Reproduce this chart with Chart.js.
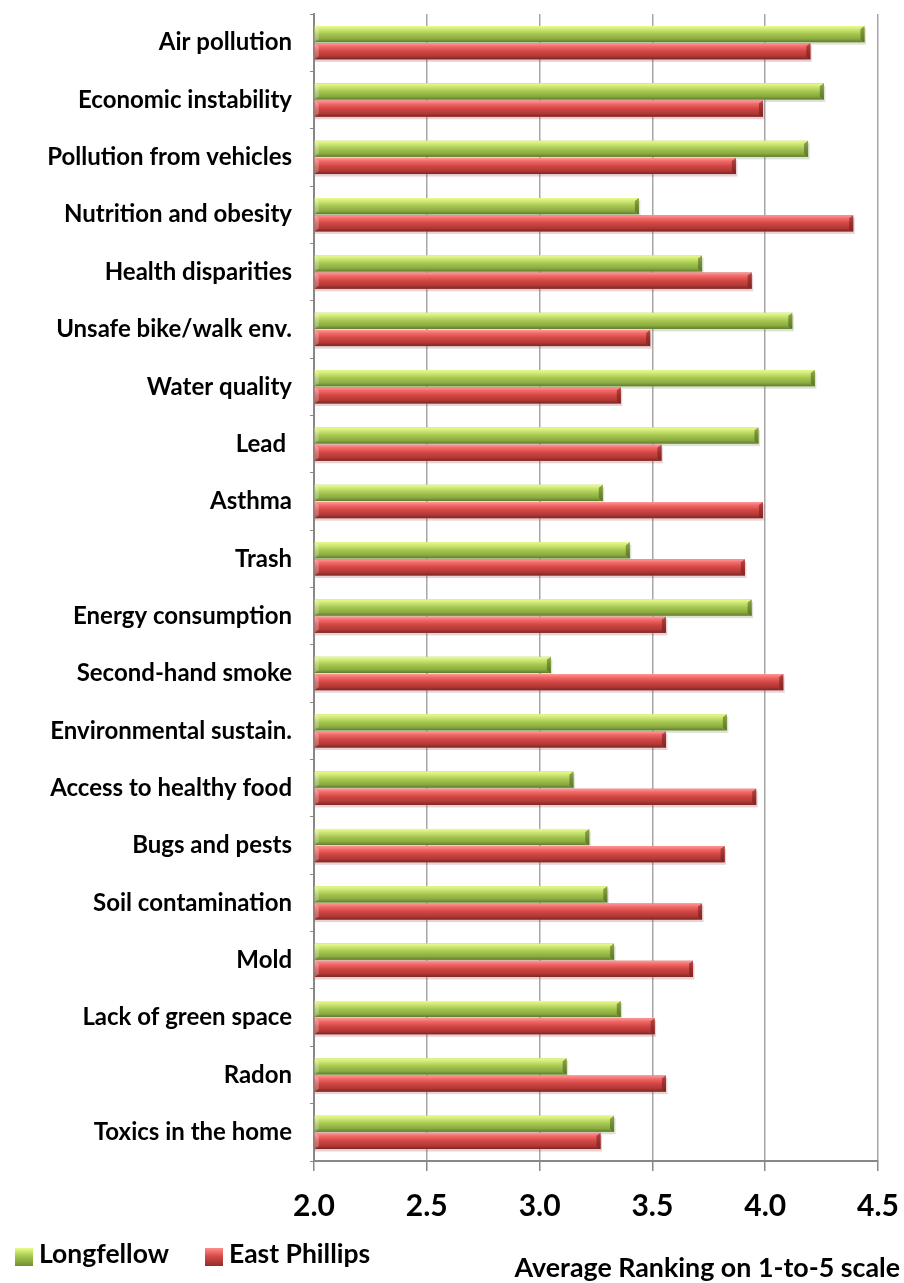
<!DOCTYPE html>
<html>
<head>
<meta charset="utf-8">
<script src="https://cdn.jsdelivr.net/npm/chart.js@4.4.1/dist/chart.umd.min.js"></script>
<style>
  html, body { margin: 0; padding: 0; background: #fff; }
  #wrap { position: relative; width: 904px; height: 1283px; }
  .txt {
    position: absolute; white-space: nowrap;
    font-family: Lato, 'Open Sans', sans-serif; font-weight: 700; font-size: 26.5px; line-height: 32px; color: #000;
  }
  .swatch { position: absolute; width: 18px; height: 18px; }
  .sw-green { background: linear-gradient(#e9fb8d, #a6c84f 45%, #6f8f35); }
  .sw-red { background: linear-gradient(#ff8d8d, #d84b48 45%, #8e2e2c); }
</style>
</head>
<body>
<div id="wrap">
  <canvas id="chart" width="904" height="1283"></canvas>
  <span class="swatch sw-green" style="left:15px; top:1248px;"></span>
  <span class="txt" style="left:39px; top:1237px;">Longfellow</span>
  <span class="swatch sw-red" style="left:205px; top:1248px;"></span>
  <span class="txt" style="left:229px; top:1237px;">East Phillips</span>
  <span class="txt" style="right:4px; top:1251px; font-size:26.8px;">Average Ranking on 1-to-5 scale</span>
</div>
<script>
/* --- DATA --- */
const CATEGORIES = [
  'Air pollution', 'Economic instability', 'Pollution from vehicles', 'Nutrition and obesity',
  'Health disparities', 'Unsafe bike/walk env.', 'Water quality', 'Lead ', 'Asthma', 'Trash',
  'Energy consumption', 'Second-hand smoke', 'Environmental sustain.', 'Access to healthy food',
  'Bugs and pests', 'Soil contamination', 'Mold', 'Lack of green space', 'Radon', 'Toxics in the home'
];
const LONGFELLOW = [4.44, 4.26, 4.19, 3.44, 3.72, 4.12, 4.22, 3.97, 3.28, 3.40, 3.94, 3.05, 3.83, 3.15, 3.22, 3.30, 3.33, 3.36, 3.12, 3.33];
const EAST_PHILLIPS = [4.20, 3.99, 3.87, 4.39, 3.94, 3.49, 3.36, 3.54, 3.99, 3.91, 3.56, 4.08, 3.56, 3.96, 3.82, 3.72, 3.68, 3.51, 3.56, 3.27];
const X_TICKS = [2.0, 2.5, 3.0, 3.5, 4.0, 4.5];

const FONT = "Lato, 'Open Sans', sans-serif";

// gradient stops for the "3D" bar look
const BAR_STYLES = [
  { stops: ['#eafc90', '#cfe875', '#a4c650', '#8aaa40', '#5f7c2c'], end: 'rgba(70,95,30,0.55)' },
  { stops: ['#ff9a9a', '#f26a68', '#d24643', '#b03835', '#7c2624'], end: 'rgba(110,30,28,0.55)' }
];

/* --- bevel / shadow plugin --- */
const barLook = {
  id: 'barLook',
  beforeDatasetsDraw(chart) {
    const ctx = chart.ctx;
    ctx.save();
    chart.data.datasets.forEach((ds, di) => {
      chart.getDatasetMeta(di).data.forEach(el => {
        const { x, y, base, height } = el.getProps(['x', 'y', 'base', 'height'], true);
        ctx.fillStyle = di === 0 ? 'rgba(120,140,90,0.25)' : 'rgba(160,80,80,0.25)';
        ctx.fillRect(base, y - height / 2 + 2.5, x - base + 1.5, height);
      });
    });
    ctx.restore();
  },
  afterDatasetsDraw(chart) {
    const ctx = chart.ctx;
    ctx.save();
    chart.data.datasets.forEach((ds, di) => {
      const st = BAR_STYLES[di];
      chart.getDatasetMeta(di).data.forEach(el => {
        const { x, y, base, height } = el.getProps(['x', 'y', 'base', 'height'], true);
        const top = y - height / 2;
        const g = ctx.createLinearGradient(0, top, 0, top + height);
        g.addColorStop(0, st.stops[0]);
        g.addColorStop(0.2, st.stops[1]);
        g.addColorStop(0.5, st.stops[2]);
        g.addColorStop(0.8, st.stops[3]);
        g.addColorStop(1, st.stops[4]);
        ctx.fillStyle = g;
        ctx.fillRect(base, top, x - base, height);
        // bevelled right end
        ctx.fillStyle = st.end;
        ctx.beginPath();
        ctx.moveTo(x, top);
        ctx.lineTo(x, top + height);
        ctx.lineTo(x - 4, top + height - 3);
        ctx.lineTo(x - 4, top + 3);
        ctx.closePath();
        ctx.fill();
        // bevelled left start
        ctx.fillStyle = 'rgba(255,255,255,0.25)';
        ctx.beginPath();
        ctx.moveTo(base, top);
        ctx.lineTo(base + 4, top + 3);
        ctx.lineTo(base + 4, top + height - 3);
        ctx.lineTo(base, top + height);
        ctx.closePath();
        ctx.fill();
      });
    });
    ctx.restore();
  }
};

new Chart(document.getElementById('chart'), {
  type: 'bar',
  data: {
    labels: CATEGORIES,
    datasets: [
      { label: 'Longfellow', data: LONGFELLOW, backgroundColor: '#9bbb59', base: X_TICKS[0] },
      { label: 'East Phillips', data: EAST_PHILLIPS, backgroundColor: '#c0504d', base: X_TICKS[0] }
    ]
  },
  options: {
    indexAxis: 'y',
    responsive: false,
    animation: false,
    datasets: { bar: { categoryPercentage: 0.6, barPercentage: 0.94 } },
    layout: { padding: { top: 14, right: 26, left: 0, bottom: 0 } },
    plugins: { legend: { display: false }, tooltip: { enabled: false } },
    scales: {
      x: {
        min: 2, max: 4.5,
        beginAtZero: false,
        afterBuildTicks: (scale) => { scale.ticks = X_TICKS.map(v => ({ value: v })); },
        afterFit: (scale) => { scale.height = 122; scale.paddingLeft = 0; scale.paddingRight = 0; },
        grid: { color: '#a6a6a6', lineWidth: 1.5, tickLength: 10, tickColor: '#888' },
        border: { color: '#888', width: 2 },
        ticks: {
          color: '#000', padding: 17,
          font: { family: FONT, size: 30, weight: 'bold' },
          callback: (v) => Number(v).toFixed(1)
        }
      },
      y: {
        afterFit: (scale) => { scale.width = 314; scale.paddingTop = 0; scale.paddingBottom = 0; },
        grid: { drawOnChartArea: false, tickLength: 4, color: '#888' },
        border: { color: '#888', width: 2 },
        ticks: { color: '#000', padding: 18, autoSkip: false, font: { family: FONT, size: 24, weight: 'bold' } }
      }
    }
  },
  plugins: [barLook]
});
</script>
</body>
</html>
